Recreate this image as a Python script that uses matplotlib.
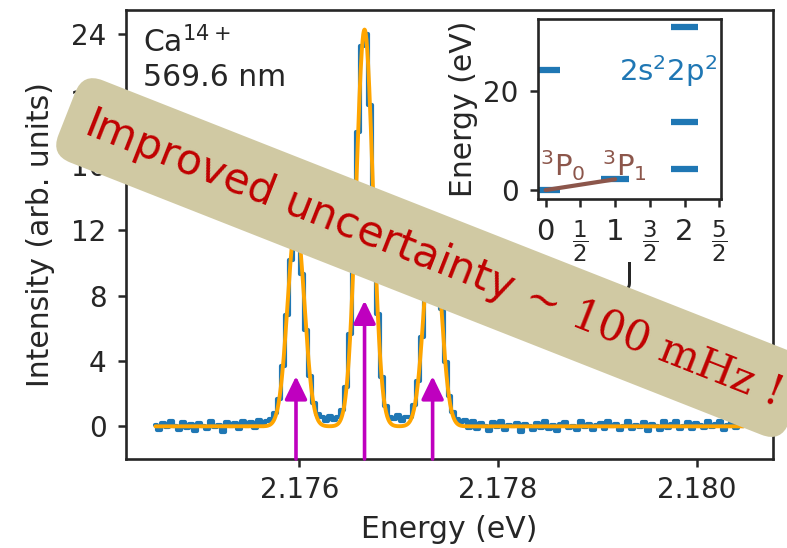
import numpy as np
import matplotlib
matplotlib.use("Agg")
import matplotlib.pyplot as plt
import seaborn as sns

# measured Ca14+ spectrum, 3P0 -> 3P1 line (three Zeeman components)
energy_start = 2.17455   # eV, centre of first bin
energy_step = 0.00004    # eV, bin width
counts = [
    0.10, -0.25, 0.20, -0.05, 0.30, 0.05, -0.20, 0.25, -0.10, 0.15,
    -0.30, 0.20, 0.05, -0.15, 0.30, -0.05, 0.10, -0.35, 0.25, 0.00,
    0.20, -0.15, 0.35, 0.05, 0.25, -0.10, 0.40, 0.15, 0.35, 0.45,
    0.80, 1.70, 3.70, 6.80, 10.20, 12.35, 12.00, 9.35, 5.90, 3.10,
    1.45, 0.75, 0.55, 0.30, 0.65, 0.40, 0.55, 1.00, 2.40, 5.65,
    11.20, 18.05, 23.30, 24.00, 19.70, 12.95, 6.90, 3.05, 1.25, 0.60,
    0.45, 0.70, 0.35, 0.55, 0.60, 1.30, 2.75, 5.45, 8.90, 11.75,
    12.45, 10.55, 7.20, 3.95, 1.85, 0.85, 0.45, 0.25, 0.40, -0.10,
    0.30, -0.15, 0.20, 0.05, -0.30, 0.25, -0.05, 0.35, -0.20, 0.10,
    0.00, 0.20, -0.35, 0.15, 0.05, -0.25, 0.20, -0.10, 0.30, -0.15,
    0.10, -0.30, 0.15, 0.25, -0.10, 0.05, -0.20, 0.30, -0.05, 0.15,
    -0.25, 0.10, 0.20, -0.15, 0.35, 0.00, 0.15, -0.25, 0.05, 0.30,
    -0.15, 0.10, -0.05, 0.25, -0.30, 0.15, 0.05, -0.20, 0.30, -0.10,
    0.15, 0.35, -0.15, 0.05, 0.25, -0.15, 0.20, 0.10, -0.10, 0.30,
    -0.05, 0.15, 0.35, -0.20, 0.10, 0.25, -0.10, 0.20, 0.05,
]

# fitted gaussian components and line strengths (arrows)
peak_centers = [2.175965, 2.176655, 2.17734]
peak_heights = [12.5, 24.3, 12.5]
peak_sigma = 8.4e-5
arrow_heights = [3.07, 7.7, 3.07]

# level scheme inset
level_j = [0, 0, 1, 2, 2, 2]
level_energy = [0.0, 24.2, 2.18, 4.3, 13.85, 33.0]
transition_j = [0, 1]
transition_energy = [0.0, 2.18]
j_ticks = [0, 0.5, 1, 1.5, 2, 2.5]
j_ticklabels = ["0", r"$\dfrac{1}{2}$", "1", r"$\dfrac{3}{2}$", "2", r"$\dfrac{5}{2}$"]

sns.set_style("ticks")
plt.rcParams.update({
    "font.family": ["DejaVu Sans"],
    "axes.linewidth": 1.9,
    "xtick.major.size": 6, "ytick.major.size": 6,
    "xtick.major.width": 1.8, "ytick.major.width": 1.8,
    "xtick.major.pad": 6, "ytick.major.pad": 8,
    "xtick.labelsize": 20, "ytick.labelsize": 20,
    "axes.labelsize": 21.5,
})

energy = energy_start + energy_step * np.arange(len(counts))
fit_x = np.linspace(energy[0], energy[-1], 1500)
fit_y = np.zeros_like(fit_x)
for c, h in zip(peak_centers, peak_heights):
    fit_y += h * np.exp(-(fit_x - c) ** 2 / (2 * peak_sigma ** 2))

fig = plt.figure(figsize=(7.87, 5.48), dpi=100)
ax = fig.add_axes([0.1601, 0.1624, 0.8221, 0.8194])
ax.step(energy, counts, where="mid", color="tab:blue", lw=3)
ax.plot(fit_x, fit_y, color="orange", lw=2.8)
ybot = -2.0
for c, h in zip(peak_centers, arrow_heights):
    ax.annotate("", xy=(c, h), xytext=(c, ybot),
                arrowprops=dict(arrowstyle="-|>,head_width=0.34,head_length=0.7",
                                color="m", lw=2.6, shrinkA=0, shrinkB=0,
                                mutation_scale=20))
ax.set_ylim(ybot, 25.5)
ax.set_yticks([0, 4, 8, 12, 16, 20, 24])
ax.set_xticks([2.176, 2.178, 2.180])
ax.set_xticklabels(["2.176", "2.178", "2.180"])
ax.set_xlabel("Energy (eV)", labelpad=8)
ax.set_ylabel("Intensity (arb. units)", labelpad=12)
ax.text(0.027, 0.965, "Ca$^{14+}$\n569.6 nm", transform=ax.transAxes,
        ha="left", va="top", fontsize=21.5)

# inset: level scheme
axi = fig.add_axes([0.6836, 0.6369, 0.2322, 0.3285])
lj = np.array(level_j, dtype=float)
axi.hlines(level_energy, lj - 0.2, lj + 0.2, color="tab:blue", lw=4.5)
axi.plot(transition_j, transition_energy, color="tab:brown", lw=3)
axi.text(0.25, 2.9, r"$^3$P$_0$", color="tab:brown", ha="center",
         va="baseline", fontsize=21)
axi.text(1.14, 2.9, r"$^3$P$_1$", color="tab:brown", ha="center",
         va="baseline", fontsize=21)
axi.text(2.47, 22.0, r"2s$^2$2p$^2$", color="tab:blue", ha="right",
         va="baseline", fontsize=21)
axi.set_xlim(-0.11, 2.52)
axi.set_ylim(-1.8, 34.6)
axi.set_yticks([0, 20])
axi.set_xticks(j_ticks)
axi.set_xticklabels(j_ticklabels)
axi.tick_params(axis="x", labelsize=21, pad=8)
for lbl in axi.get_xticklabels()[1::2]:
    lbl.set_fontsize(16.5)
axi.set_ylabel("Energy (eV)", labelpad=4)
axi.set_xlabel("J", labelpad=-2)

fig.text(0.549, 0.530, r"Improved uncertainty$\,\sim\,\mathrm{100\ mHz\ !}$",
         rotation=-21.5, rotation_mode="anchor", ha="center", va="center",
         fontsize=30.5, color="#c00000", math_fontfamily="dejavuserif",
         bbox=dict(boxstyle="round,pad=0.5", fc="#d0c9a3", ec="none"),
         zorder=10)

fig.savefig("out.png", dpi=100)
